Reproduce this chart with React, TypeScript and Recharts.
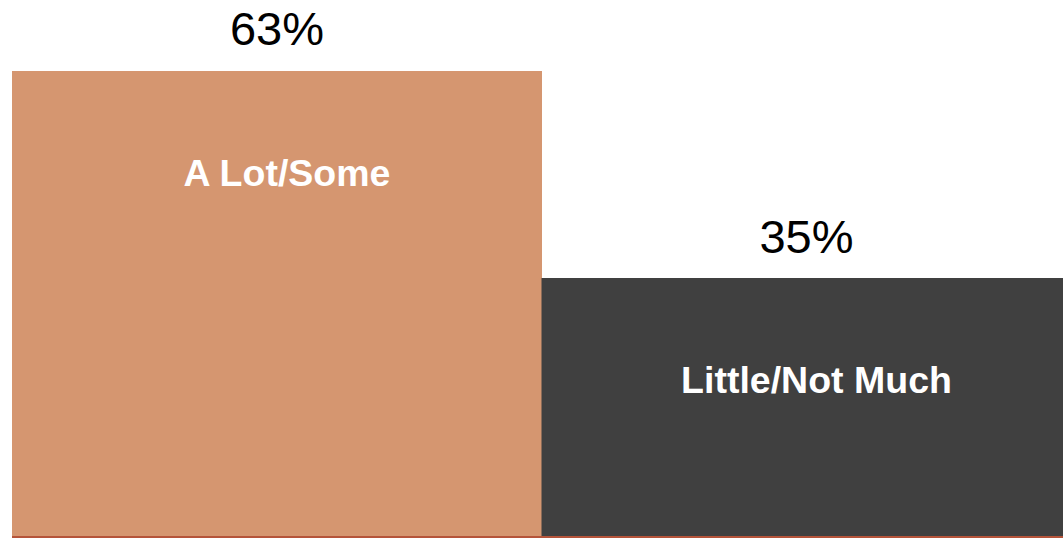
import { BarChart, Bar, XAxis, YAxis, Cell, LabelList, ReferenceLine } from 'recharts';

const categories = ['A Lot/Some', 'Little/Not Much'];
const values = [63, 35];
const colors = ['#d59670', '#404040'];

const data = categories.map((name, i) => ({ name, value: values[i] }));

function InnerLabel(props: any) {
  const { x, y, width, value } = props;
  return (
    <text
      x={x + width / 2 + 10}
      y={y + 105}
      textAnchor="middle"
      dominantBaseline="middle"
      fill="#ffffff"
      fontFamily="'Liberation Sans', Arial, sans-serif"
      fontWeight="bold"
      fontSize={37.5}
    >
      {value}
    </text>
  );
}

function TopLabel(props: any) {
  const { x, y, width, value } = props;
  return (
    <text
      x={x + width / 2}
      y={y - 38}
      textAnchor="middle"
      dominantBaseline="middle"
      fill="#000000"
      fontFamily="'Liberation Sans', Arial, sans-serif"
      fontSize={47}
    >
      {`${value}%`}
    </text>
  );
}

export default function App() {
  return (
    <div style={{ position: 'absolute', left: 0, top: 0, background: '#ffffff', width: 1063, height: 539, overflow: 'hidden' }}>
      <BarChart
        width={1063}
        height={539}
        data={data}
        margin={{ top: 71, right: -8, left: 12, bottom: 2 }}
        barCategoryGap={0}
      >
        <XAxis dataKey="name" hide />
        <YAxis hide domain={[0, 63]} />
        <Bar dataKey="value" isAnimationActive={false}>
          {data.map((d, i) => (
            <Cell key={d.name} fill={colors[i]} />
          ))}
          <LabelList dataKey="value" content={<TopLabel />} />
          <LabelList dataKey="name" content={<InnerLabel />} />
        </Bar>
        <ReferenceLine y={0} stroke="#b5543a" strokeWidth={2} ifOverflow="visible" />
      </BarChart>
    </div>
  );
}
